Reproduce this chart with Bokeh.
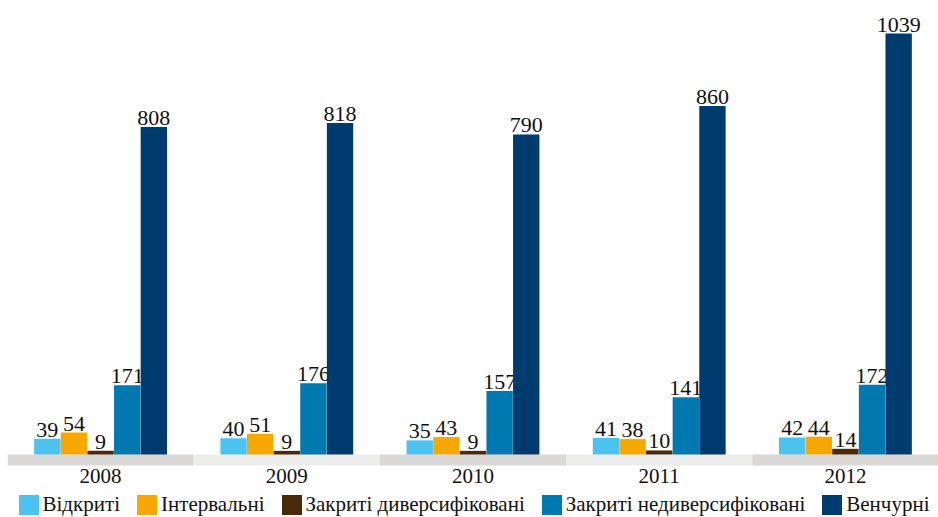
from bokeh.plotting import figure
from bokeh.models import ColumnDataSource, FactorRange, Range1d, Legend, LegendItem
from bokeh.transform import dodge
from bokeh.core.properties import value
from bokeh.embed import file_html
from bokeh.resources import INLINE

years = ["2008", "2009", "2010", "2011", "2012"]
series_names = ["Відкриті", "Інтервальні", "Закриті диверсифіковані",
                "Закриті недиверсифіковані", "Венчурні"]
vidkryti = [39, 40, 35, 41, 42]
intervalni = [54, 51, 43, 38, 44]
zakr_dyv = [9, 9, 9, 10, 14]
zakr_nedyv = [171, 176, 157, 141, 172]
venchurni = [808, 818, 790, 860, 1039]
series_values = [vidkryti, intervalni, zakr_dyv, zakr_nedyv, venchurni]
colors = ["#4cc3ee", "#f6a800", "#4b2a0c", "#0079b0", "#003b6f"]
band_colors = ["#d9d8d6", "#ededec", "#d9d8d6", "#ededec", "#d9d8d6"]

FONT = "Liberation Serif"
W, H = 938, 517
LEFT = 7
ymax = max(venchurni)
base_px = 454.0     # baseline distance from top of frame
top_px = 33.0       # top of tallest bar from top of frame
band_px = 11.0
cat_px = 21.0
scale = (base_px - top_px) / ymax
y_start = -(H - base_px) / scale
y_end = ymax + top_px / scale

p = figure(x_range=FactorRange(*years, range_padding=0), y_range=Range1d(y_start, y_end),
           width=W, height=H, output_backend="svg", toolbar_location=None,
           min_border=0, min_border_left=LEFT, min_border_right=0, min_border_top=0,
           min_border_bottom=0, outline_line_color=None)
p.background_fill_color = "white"
p.border_fill_color = "white"
p.grid.visible = False
p.xaxis.visible = False
p.yaxis.visible = False

band_src = ColumnDataSource(dict(x=years, c=band_colors, top=[0] * 5,
                                 bottom=[-band_px / scale] * 5,
                                 ly=[-cat_px / scale] * 5))
p.vbar(x="x", top="top", bottom="bottom", width=1.0, fill_color="c", line_color=None, source=band_src)
p.text(x="x", y="ly", text="x", source=band_src, text_align="center", text_baseline="middle",
       text_font=value(FONT), text_font_size="21px", text_color="#111111")

bw = 0.143
offsets = [-2 * bw, -bw, 0, bw, 2 * bw]
items = []
for name, vals, col, off in zip(series_names, series_values, colors, offsets):
    src = ColumnDataSource(dict(x=years, v=vals, t=[str(v) for v in vals]))
    r = p.vbar(x=dodge("x", off, range=p.x_range), top="v", width=bw * 0.99,
               fill_color=col, line_color=None, source=src)
    p.text(x=dodge("x", off, range=p.x_range), y="v", text="t", source=src,
           text_align="center", text_baseline="bottom", y_offset=-2,
           text_font=value(FONT), text_font_size="22px", text_color="#111111")
    items.append(LegendItem(label=name, renderers=[r]))

legend = Legend(items=items, orientation="horizontal", location="bottom_center",
                glyph_width=25, glyph_height=25, spacing=14, padding=0, margin=0,
                label_standoff=2, label_height=25,
                label_text_font=FONT, label_text_font_size="21px", label_text_color="#111111",
                border_line_color=None, background_fill_alpha=0)
p.add_layout(legend, "center")

open("out.html", "w").write(file_html(p, INLINE))
